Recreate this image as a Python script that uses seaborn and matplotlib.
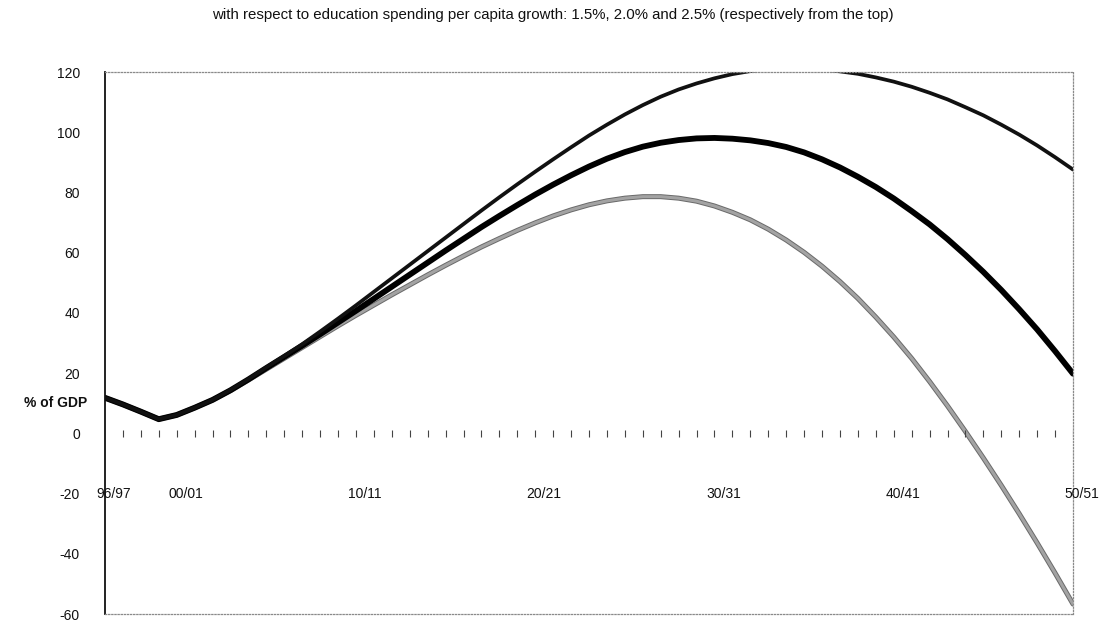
import matplotlib
matplotlib.use("Agg")
import matplotlib.pyplot as plt
import matplotlib.patheffects as pe
import seaborn as sns
import pandas as pd

# ---- data ----
years = list(range(1996, 2051))
tick_labels = ["96/97", "00/01", "10/11", "20/21", "30/31", "40/41", "50/51"]
tick_years = [1996, 2000, 2010, 2020, 2030, 2040, 2050]

growth_15 = [11.8, 9.6, 7.2, 4.7, 6.1, 8.5, 11.1, 14.4, 18.0, 21.9,
             25.7, 29.6, 33.8, 38.1, 42.5, 47.0, 51.5, 56.0, 60.5, 65.0,
             69.5, 74.0, 78.4, 82.7, 86.9, 91.0, 95.0, 98.9, 102.5, 105.9,
             109.0, 111.8, 114.2, 116.2, 117.9, 119.3, 120.3, 121.0, 121.35, 121.25,
             120.9, 120.2, 119.4, 118.2, 116.8, 115.1, 113.1, 110.9, 108.3, 105.6,
             102.5, 99.2, 95.6, 91.7, 87.6]
growth_20 = [11.8, 9.6, 7.2, 4.7, 6.1, 8.5, 11.1, 14.3, 17.9, 21.7,
             25.4, 29.1, 32.9, 36.8, 40.7, 44.7, 48.7, 52.7, 56.7, 60.7,
             64.6, 68.5, 72.2, 75.8, 79.3, 82.6, 85.7, 88.6, 91.2, 93.4,
             95.2, 96.5, 97.4, 97.95, 98.1, 97.85, 97.3, 96.4, 95.1, 93.3,
             91.0, 88.3, 85.2, 81.8, 78.0, 73.8, 69.4, 64.5, 59.2, 53.6,
             47.6, 41.2, 34.5, 27.3, 19.8]
growth_25 = [11.8, 9.6, 7.2, 4.7, 6.1, 8.5, 11.1, 14.2, 17.7, 21.3,
             24.9, 28.5, 32.1, 35.7, 39.2, 42.6, 46.0, 49.3, 52.6, 55.8,
             58.9, 61.9, 64.7, 67.4, 69.9, 72.2, 74.2, 75.9, 77.2, 78.1,
             78.6, 78.6, 78.1, 77.1, 75.5, 73.4, 70.9, 67.8, 64.2, 60.1,
             55.5, 50.4, 44.8, 38.6, 32.0, 24.9, 17.2, 9.1, 0.6, -8.2,
             -17.3, -26.7, -36.4, -46.4, -56.7]

series_names = ["1.5%", "2.0%", "2.5%"]
series_colors = ["#111111", "#000000", "#a3a3a3"]
series_widths = [2.7, 4.2, 2.2]

df = pd.DataFrame({
    "year": years * 3,
    "value": growth_15 + growth_20 + growth_25,
    "series": sum([[n] * len(years) for n in series_names], []),
})

# ---- figure ----
sns.set_style("white")
plt.rcParams["font.family"] = ["Liberation Sans", "DejaVu Sans"]
plt.rcParams["axes.unicode_minus"] = False

fig = plt.figure(figsize=(11.06, 6.23), dpi=100)
ax = fig.add_axes([105 / 1106, 1 - 614 / 623, (1073 - 105) / 1106, (614 - 72) / 623])

# draw bottom series first so the darker lines sit on top
for name, col, lw in reversed(list(zip(series_names, series_colors, series_widths))):
    sns.lineplot(data=df[df["series"] == name], x="year", y="value",
                 color=col, linewidth=lw, ax=ax, legend=False)
    if name == "2.5%":
        ax.lines[-1].set_path_effects([pe.Stroke(linewidth=3.6, foreground="#6a6a6a"), pe.Normal()])

ax.set_xlim(years[0], years[-1])
ax.set_ylim(-60, 120)
ax.set_yticks(list(range(-60, 121, 20)))
ax.tick_params(axis="y", length=0, pad=18, labelsize=10, labelcolor="#111111")
ax.set_xticks([])
ax.set_xlabel("")
ax.set_ylabel("")

# tick marks along the zero line
ax.vlines(years[1:], -1.1, 1.1, color="#444444", linewidth=0.8)

# category labels (sit between categories, at the -20 level)
for yr, lab in zip(tick_years, tick_labels):
    ax.text(yr + 0.5, -20, lab, ha="center", va="center", fontsize=10, color="#111111")

# "% of GDP" label
ax.text(-0.018, 10, "% of GDP", transform=ax.get_yaxis_transform(),
        ha="right", va="center", fontsize=10, fontweight="bold", color="#111111")

# frame
ax.spines["left"].set_color("#111111")
ax.spines["left"].set_linewidth(1.3)
for s in ["top", "right", "bottom"]:
    ax.spines[s].set_color("#8a8a8a")
    ax.spines[s].set_linestyle((0, (1, 1.5)))
    ax.spines[s].set_linewidth(0.9)
ax.grid(False)

fig.text(0.5, 1 - 15 / 623,
         "with respect to education spending per capita growth: 1.5%, 2.0% and 2.5% (respectively from the top)",
         ha="center", va="center", fontsize=10.8, color="#111111")

fig.savefig("out.png", dpi=100)
